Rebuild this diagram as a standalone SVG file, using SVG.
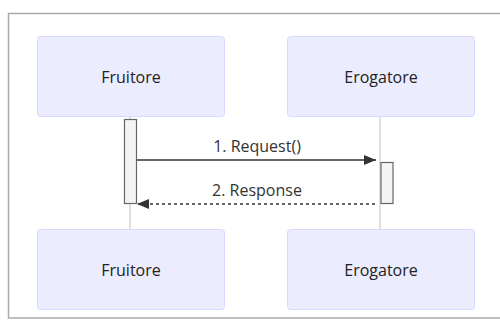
<svg xmlns="http://www.w3.org/2000/svg" width="500" height="320" viewBox="0 0 500 320">
<style>
.actor{fill:#ECECFF;stroke:#d9d9ff;stroke-width:1}
.atext{font-family:"Open Sans","DejaVu Sans",sans-serif;font-size:16px;font-weight:500;fill:#222;text-anchor:middle;dominant-baseline:central}
.life{stroke:#ccc;stroke-width:1.2}
.act{fill:#f4f4f4;stroke:#666;stroke-width:1.2}
.msg{font-family:"Open Sans","DejaVu Sans",sans-serif;font-size:16px;font-weight:400;fill:#333;text-anchor:middle}
.line{stroke:#333;stroke-width:1.5;fill:none}
</style>
<defs>
<marker id="ah" viewBox="0 0 12 10" refX="12" refY="5" markerWidth="12" markerHeight="10" markerUnits="userSpaceOnUse" orient="auto">
<path d="M0,0 L12,5 L0,10 z" fill="#333"/>
</marker>
</defs>
<rect x="0" y="0" width="500" height="320" fill="#fff"/>
<rect x="8.5" y="13.5" width="500" height="304.5" fill="#fff" stroke="#aaa" stroke-width="1.5"/>
<g id="lifelines">
<line class="life" x1="130" y1="117" x2="130" y2="229"/>
<line class="life" x1="380" y1="117" x2="380" y2="229"/>
</g>
<g id="fruitore-top"><rect class="actor" x="37.5" y="36.5" width="187" height="80" rx="3"/><text class="atext" x="131" y="77">Fruitore</text></g>
<g id="erogatore-top"><rect class="actor" x="287.5" y="36.5" width="187" height="80" rx="3"/><text class="atext" x="381" y="77">Erogatore</text></g>
<g id="fruitore-bottom"><rect class="actor" x="37.5" y="229.5" width="187" height="80" rx="3"/><text class="atext" x="131" y="270">Fruitore</text></g>
<g id="erogatore-bottom"><rect class="actor" x="287.5" y="229.5" width="187" height="80" rx="3"/><text class="atext" x="381" y="270">Erogatore</text></g>
<g id="activations">
<rect class="act" x="124.5" y="119.5" width="12" height="84"/>
<rect class="act" x="381" y="162.5" width="12" height="41"/>
</g>
<g id="connectors">
<line class="line" x1="137" y1="160" x2="376" y2="160" marker-end="url(#ah)"/>
<text class="msg" x="257" y="152">1. Request()</text>
<line class="line" x1="375" y1="204" x2="137" y2="204" stroke-dasharray="3,3" marker-end="url(#ah)"/>
<text class="msg" x="257" y="196">2. Response</text>
</g>
</svg>
